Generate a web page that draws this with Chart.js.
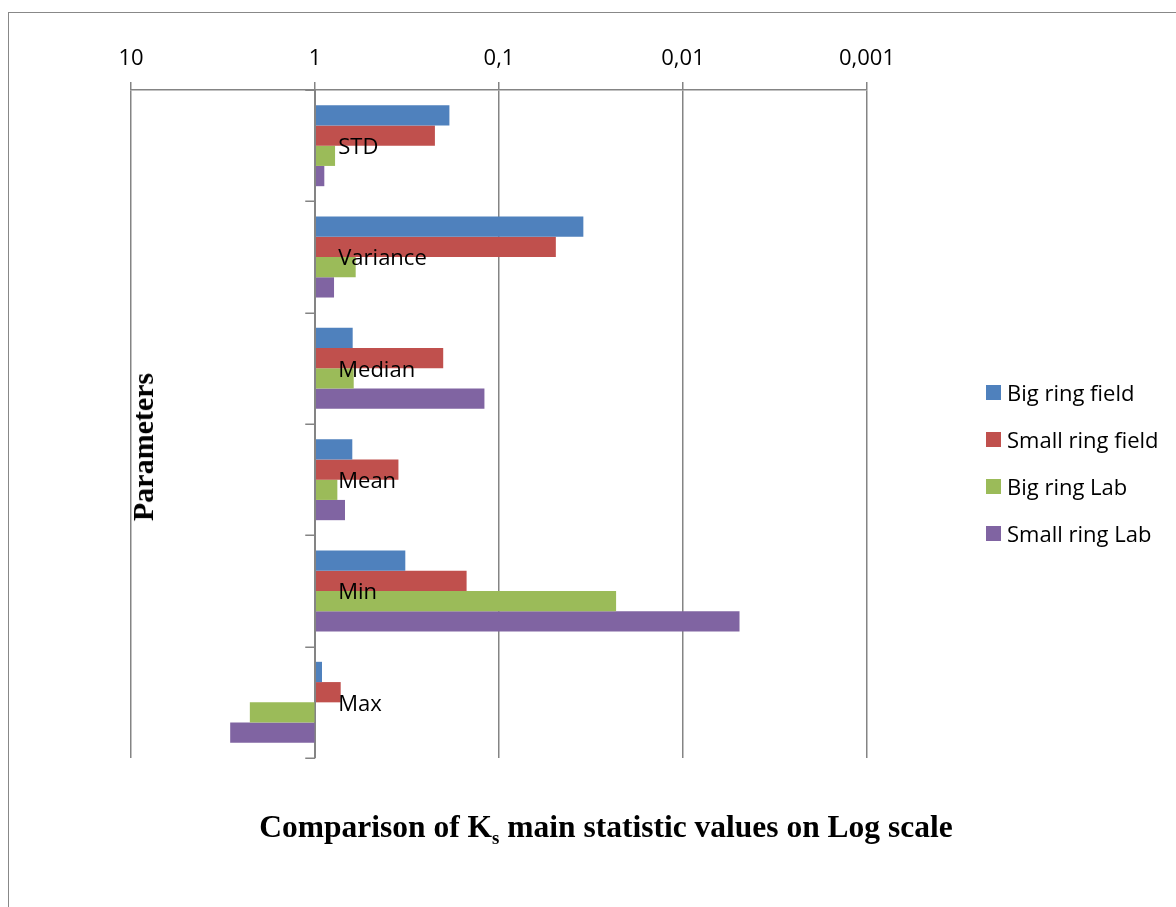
<!DOCTYPE html>
<html>
<head>
<meta charset="utf-8">
<script src="https://cdn.jsdelivr.net/npm/chart.js@4.4.1/dist/chart.umd.min.js"></script>
<style>
  html, body { margin: 0; padding: 0; width: 1176px; height: 907px; overflow: hidden; background: #fff; }
  #frame { position: absolute; left: 8px; top: 12px; width: 1300px; height: 1000px; border: 1.5px solid #888; box-sizing: border-box; }
  #chart { position: absolute; left: 0; top: 0; }
  .ttl { position: absolute; font-family: "Liberation Serif", "Times New Roman", serif; font-weight: bold; font-size: 30px; color: #000; white-space: nowrap; line-height: 1; }
  .ttl sub { font-size: 60%; vertical-align: -0.35em; line-height: 0; }
  #xtitle { left: 0; width: 1212px; text-align: center; top: 811px; font-size: 31.5px; }
  #ytitle { left: 143px; top: 447px; transform: translate(-50%, -50%) rotate(-90deg); }
  #legend { position: absolute; left: 986px; top: 0; font-family: "Open Sans", sans-serif; font-size: 22px; color: #000; }
  .item { position: absolute; left: 0; white-space: nowrap; display: flex; align-items: center; height: 30px; }
  .swatch { width: 15px; height: 15px; margin-right: 6px; }
</style>
</head>
<body>
<div id="frame"></div>
<canvas id="chart" width="1176" height="907"></canvas>
<div class="ttl" id="xtitle">Comparison of K<sub>s</sub> main statistic values on Log scale</div>
<div class="ttl" id="ytitle">Parameters</div>
<div id="legend"></div>
<script>
// Statistics of K_s, one value per parameter for each ring/setting
const categories = ['STD', 'Variance', 'Median', 'Mean', 'Min', 'Max'];
const bigRingField   = [0.186, 0.0348, 0.624, 0.627, 0.323, 0.916];
const smallRingField = [0.223, 0.0491, 0.201, 0.352, 0.150, 0.725];
const bigRingLab     = [0.778, 0.601, 0.616, 0.756, 0.0231, 2.26];
const smallRingLab   = [0.890, 0.788, 0.120, 0.687, 0.00493, 2.89];
const seriesNames  = ['Big ring field', 'Small ring field', 'Big ring Lab', 'Small ring Lab'];
const seriesColors = ['#4F81BD', '#C0504D', '#9BBB59', '#8064A2'];
const tickValues = [10, 1, 0.1, 0.01, 0.001];
const tickLabels = ['10', '1', '0,1', '0,01', '0,001'];
// bars grow out of the value 1 on the log axis
const baseValue = 1;

const series = [bigRingField, smallRingField, bigRingLab, smallRingLab];
const labelFont = '22px "Open Sans", sans-serif';
const axisColor = '#848484';

// vertical category axis sitting at x = 1, with its labels beside it
const categoryAxisAtOne = {
  id: 'categoryAxisAtOne',
  afterDatasetsDraw(chart) {
    const { ctx, chartArea, scales: { x, y } } = chart;
    const ax = Math.round(x.getPixelForValue(baseValue)) + 0.25;
    const n = categories.length;
    const step = (chartArea.bottom - chartArea.top) / n;
    ctx.save();
    ctx.strokeStyle = axisColor;
    ctx.lineWidth = 1.5;
    ctx.beginPath();
    ctx.moveTo(ax, chartArea.top);
    ctx.lineTo(ax, chartArea.bottom);
    for (let i = 0; i <= n; i++) {
      const ty = Math.round(chartArea.top + i * step) + 0.25;
      ctx.moveTo(ax - 10, ty);
      ctx.lineTo(ax, ty);
    }
    ctx.stroke();
    ctx.fillStyle = '#000';
    ctx.font = labelFont;
    ctx.textAlign = 'left';
    ctx.textBaseline = 'middle';
    categories.forEach((c, i) => {
      ctx.fillText(c, ax + 23, y.getPixelForValue(i) + 2);
    });
    ctx.restore();
  }
};

new Chart(document.getElementById('chart'), {
  type: 'bar',
  data: {
    labels: categories,
    datasets: series.map((vals, i) => ({
      label: seriesNames[i],
      data: vals.map(v => [baseValue, v]),
      backgroundColor: seriesColors[i],
      borderWidth: 0,
      categoryPercentage: 0.728,
      barPercentage: 1
    }))
  },
  options: {
    indexAxis: 'y',
    responsive: false,
    animation: false,
    devicePixelRatio: 1,
    layout: { padding: { left: 131, right: 309, top: 0, bottom: 149 } },
    plugins: { legend: { display: false }, tooltip: { enabled: false } },
    scales: {
      x: {
        type: 'logarithmic',
        position: 'top',
        reverse: true,
        min: 0.001,
        max: 10,
        afterFit(s) { s.height = 90; },
        afterBuildTicks(s) { s.ticks = tickValues.map(v => ({ value: v })); },
        ticks: {
          autoSkip: false,
          maxRotation: 0,
          padding: 10,
          color: '#000',
          font: { family: '"Open Sans", sans-serif', size: 22 },
          callback: (v, i) => tickLabels[i]
        },
        grid: { color: axisColor, lineWidth: 1.5, tickLength: 8 },
        border: { color: axisColor, width: 1.5 }
      },
      y: { display: false }
    }
  },
  plugins: [categoryAxisAtOne]
});

// legend
const legend = document.getElementById('legend');
const legendRows = [392, 439, 486, 533];
seriesNames.forEach((name, i) => {
  const item = document.createElement('div');
  item.className = 'item';
  item.style.top = (legendRows[i] - 15) + 'px';
  const sw = document.createElement('span');
  sw.className = 'swatch';
  sw.style.background = seriesColors[i];
  const tx = document.createElement('span');
  tx.textContent = name;
  item.appendChild(sw);
  item.appendChild(tx);
  legend.appendChild(item);
});
</script>
</body>
</html>
